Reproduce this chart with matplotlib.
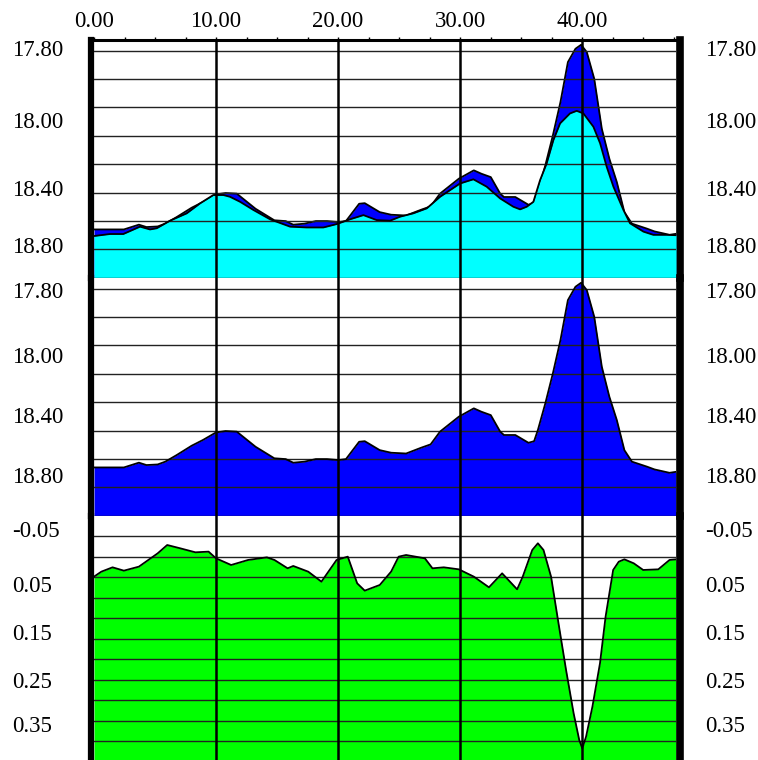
import numpy as np
import matplotlib
matplotlib.use("Agg")
import matplotlib.pyplot as plt
from matplotlib.ticker import MultipleLocator, NullLocator
from matplotlib.transforms import Bbox

plt.rcParams["font.family"] = ["Liberation Serif", "DejaVu Serif"]

# ===========================
# Data
# ===========================
# deep series (blue) - same trace in panel 1 and panel 2
blue_x = [0.0, 2.45, 3.68, 4.30, 5.22, 5.84, 6.77, 8.00, 8.93, 10.00, 10.78, 11.70,
          13.24, 14.78, 15.71, 16.33, 17.25, 18.18, 19.10, 20.03, 20.65, 21.11, 21.73,
          22.19, 23.42, 24.35, 25.58, 26.81, 27.59, 28.36, 29.90, 31.13, 31.75, 32.52,
          33.29, 33.60, 34.53, 35.61, 36.07, 36.38, 36.99, 37.61, 38.23, 38.84, 39.46,
          39.92, 40.39, 41.00, 41.62, 42.24, 42.85, 43.47, 44.09, 45.32, 45.94, 47.17, 47.70]
blue_y = [18.699, 18.699, 18.675, 18.687, 18.684, 18.670, 18.637, 18.590, 18.561, 18.523,
          18.516, 18.519, 18.595, 18.653, 18.657, 18.675, 18.670, 18.657, 18.657, 18.662,
          18.657, 18.620, 18.570, 18.567, 18.612, 18.625, 18.629, 18.600, 18.583, 18.519,
          18.444, 18.402, 18.419, 18.436, 18.519, 18.536, 18.536, 18.575, 18.567, 18.511,
          18.377, 18.226, 18.059, 17.858, 17.791, 17.771, 17.808, 17.942, 18.193, 18.344,
          18.461, 18.612, 18.670, 18.695, 18.709, 18.726, 18.721]

# shallow series (cyan) - panel 1 only
cyan_x = [0.0, 1.31, 2.40, 3.77, 4.59, 5.14, 6.23, 7.60, 8.69, 9.78, 10.60, 11.15,
          11.97, 13.06, 14.43, 16.07, 17.43, 18.80, 19.89, 20.98, 22.08, 23.17, 24.26,
          25.08, 26.17, 27.27, 28.36, 30.00, 31.09, 32.18, 33.28, 34.37, 34.92, 35.46,
          36.01, 36.56, 37.10, 37.65, 38.20, 39.01, 39.56, 40.11, 40.93, 41.48, 42.02,
          42.57, 43.39, 43.93, 45.03, 45.84, 46.94, 47.70]
cyan_y = [18.732, 18.722, 18.722, 18.685, 18.699, 18.693, 18.655, 18.618, 18.568, 18.526,
          18.526, 18.535, 18.560, 18.601, 18.648, 18.685, 18.689, 18.689, 18.672, 18.648,
          18.627, 18.652, 18.655, 18.635, 18.618, 18.593, 18.535, 18.468, 18.447, 18.484,
          18.543, 18.585, 18.598, 18.585, 18.560, 18.451, 18.367, 18.250, 18.166, 18.116,
          18.103, 18.116, 18.183, 18.266, 18.384, 18.484, 18.601, 18.668, 18.710, 18.726,
          18.726, 18.728]

# difference series (green) - panel 3
green_x = [0.0, 0.60, 1.52, 2.45, 3.68, 5.22, 6.00, 7.07, 8.31, 9.39, 10.00, 11.24,
           12.63, 14.17, 14.79, 15.87, 16.33, 17.56, 18.64, 19.88, 20.80, 21.57, 22.19,
           23.42, 24.35, 24.97, 25.58, 27.12, 27.74, 28.67, 29.90, 31.13, 32.37, 33.45,
           34.68, 35.14, 35.92, 36.38, 36.84, 37.46, 38.07, 38.69, 39.31, 39.77, 40.02,
           40.33, 40.85, 41.47, 41.93, 42.55, 43.01, 43.47, 44.24, 45.01, 46.25, 47.17,
           47.70]
green_y = [0.0416, 0.0314, 0.0225, 0.0293, 0.0211, -0.0062, -0.0233, -0.0165, -0.0083,
           -0.0097, 0.0040, 0.0177, 0.0074, 0.0020, 0.0074, 0.0245, 0.0197, 0.0314, 0.0519,
           0.0074, 0.0006, 0.0553, 0.0703, 0.0587, 0.0314, 0.0006, -0.0028, 0.0040, 0.0245,
           0.0225, 0.0266, 0.0416, 0.0635, 0.0348, 0.0676, 0.0416, -0.0131, -0.0268, -0.0131,
           0.0416, 0.1373, 0.2331, 0.3220, 0.3767, 0.3938, 0.3698, 0.3083, 0.2194, 0.1237,
           0.0279, 0.0109, 0.0061, 0.0143, 0.0279, 0.0266, 0.0074, 0.0061]

x_ticks = [0, 10, 20, 30, 40]
x_labels = ["0.00", "10.00", "20.00", "30.00", "40.00"]

depth_labels = ["17.80", "18.00", "18.40", "18.80"]
diff_labels = ["-0.05", "0.05", "0.15", "0.25", "0.35"]

# ===========================
# Layout (figure pixels 758 x 760)
# ===========================
W, H = 758, 760
X_MAX = 47.7
DEPTH_LIM = (18.943, 17.747)   # inverted
DIFF_LIM = (0.4177, -0.0828)   # inverted
FS = 16.5

# where the side labels sit on each panel's own scale
depth_label_pos = [[17.798, 18.164, 18.501, 18.792],
                   [17.818, 18.149, 18.446, 18.752]]
diff_label_pos = [-0.050, 0.061, 0.161, 0.258, 0.350]

LEFT_PX, RIGHT_PX = 94, 676
panels_px = [(40, 278), (278, 516), (516, 760)]


def make_axes(fig, top, bottom):
    rect = [LEFT_PX / W, 1 - bottom / H, (RIGHT_PX - LEFT_PX) / W, (bottom - top) / H]
    ax = fig.add_axes(rect)
    ax.set_xlim(0, X_MAX)
    ax.set_facecolor("white")
    ax.spines["top"].set_visible(False)
    ax.spines["bottom"].set_visible(False)
    ax.spines["left"].set_linewidth(4.5)
    ax.spines["left"].set_position(("outward", 2.5))
    ax.spines["right"].set_linewidth(5.5)
    ax.spines["right"].set_position(("outward", 3))
    ax.xaxis.set_major_locator(NullLocator())
    ax.yaxis.set_major_locator(NullLocator())
    ax.tick_params(axis="x", which="both", bottom=False, top=False,
                   labelbottom=False, labeltop=False)
    ax.tick_params(axis="y", which="minor", left=True, right=False,
                   length=2.5, width=0.8, direction="out")
    return ax


def side_labels(ax, labels, positions, clip_below=None):
    tr = ax.get_yaxis_transform()
    for lab, pos in zip(labels, positions):
        for xpx in (12, 705):
            t = ax.text((xpx - LEFT_PX) / (RIGHT_PX - LEFT_PX), pos, lab, transform=tr,
                        ha="left", va="center", fontsize=FS, clip_on=False)
            if clip_below is not None:
                # the old chart cuts its lowest label at the panel edge
                t.set_clip_box(Bbox([[0, H - clip_below], [W, H]]))
                t.set_clip_on(True)


def decorate(ax, grid_vals):
    for g in grid_vals:
        ax.axhline(g, color="#222222", linewidth=1.0, zorder=4)
    for xv in x_ticks[1:]:
        ax.axvline(xv, color="black", linewidth=1.8, zorder=6)


fig = plt.figure(figsize=(W / 100, H / 100), dpi=100)

depth_grid = 17.8 + 0.1427 * np.arange(0, 9)
diff_grid = -0.0418 + 0.04215 * np.arange(0, 11)

# ---- panel 1: both depth series ----
ax1 = make_axes(fig, *panels_px[0])
ax1.set_ylim(*DEPTH_LIM)
ax1.fill_between(blue_x, blue_y, DEPTH_LIM[0], color="#0000FF", linewidth=0, zorder=1)
ax1.plot(blue_x, blue_y, color="black", linewidth=1.3, zorder=2)
ax1.fill_between(cyan_x, cyan_y, DEPTH_LIM[0], color="#00FFFF", linewidth=0, zorder=3)
ax1.plot(cyan_x, cyan_y, color="black", linewidth=1.3, zorder=5)
decorate(ax1, depth_grid)
ax1.yaxis.set_minor_locator(MultipleLocator(0.0178))
ax1.spines["top"].set_visible(True)
ax1.spines["top"].set_linewidth(2.2)
ax1.xaxis.set_major_locator(plt.FixedLocator(x_ticks))
ax1.xaxis.set_minor_locator(MultipleLocator(2.5))
ax1.set_xticklabels(x_labels)
ax1.tick_params(axis="x", which="both", top=True, labeltop=True, direction="out",
                length=2.5, width=1, pad=3, labelsize=FS)
side_labels(ax1, depth_labels, depth_label_pos[0], clip_below=255)

# ---- panel 2: deep series only ----
ax2 = make_axes(fig, *panels_px[1])
ax2.set_ylim(*DEPTH_LIM)
ax2.fill_between(blue_x, blue_y, DEPTH_LIM[0], color="#0000FF", linewidth=0, zorder=1)
ax2.plot(blue_x, blue_y, color="black", linewidth=1.3, zorder=5)
decorate(ax2, depth_grid)
ax2.yaxis.set_minor_locator(MultipleLocator(0.0178))
side_labels(ax2, depth_labels, depth_label_pos[1])

# ---- panel 3: difference ----
ax3 = make_axes(fig, *panels_px[2])
ax3.set_ylim(*DIFF_LIM)
ax3.fill_between(green_x, green_y, DIFF_LIM[0], color="#00FF00", linewidth=0, zorder=1)
ax3.plot(green_x, green_y, color="black", linewidth=1.3, zorder=5)
decorate(ax3, diff_grid)
ax3.yaxis.set_minor_locator(MultipleLocator(0.0053))
side_labels(ax3, diff_labels, diff_label_pos)

fig.savefig("out.png", dpi=100)
plt.close(fig)
